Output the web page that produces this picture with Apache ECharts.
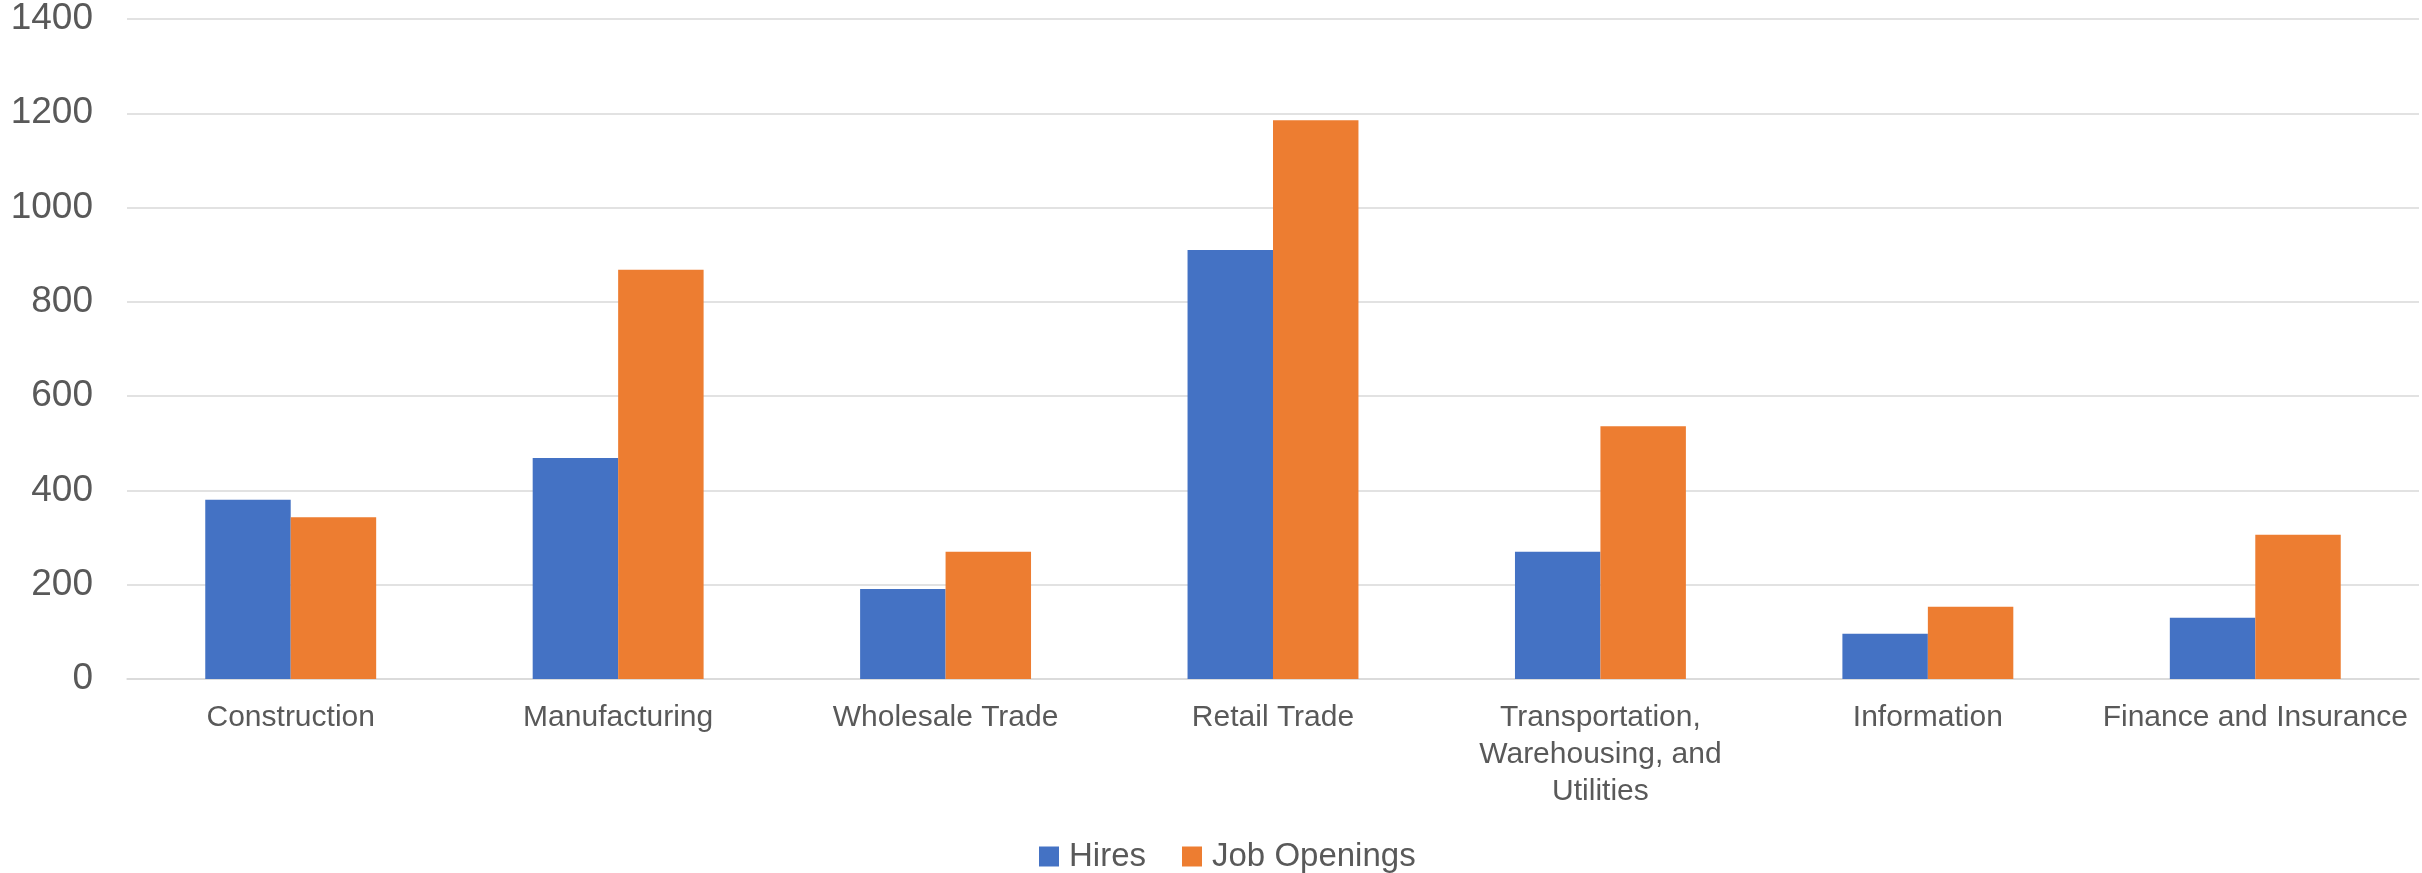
<!DOCTYPE html>
<html>
<head>
<meta charset="utf-8">
<title>Hires and Job Openings by Industry</title>
<script src="https://cdn.jsdelivr.net/npm/echarts@6/dist/echarts.min.js"></script>
<style>
  html, body { margin: 0; padding: 0; background: #ffffff; }
  #chart { width: 2422px; height: 873px; }
</style>
</head>
<body>
<div id="chart"></div>
<script>
// Industry categories (explicit line breaks for the long one)
const industries = [
  'Construction',
  'Manufacturing',
  'Wholesale Trade',
  'Retail Trade',
  'Transportation,\nWarehousing, and\nUtilities',
  'Information',
  'Finance and Insurance'
];

// Values in thousands
const hires       = [380, 469, 191, 910, 270, 96, 130];
const jobOpenings = [343, 868, 270, 1185, 536, 153, 306];

// Value axis ticks
const yMin = 0;
const yMax = 1400;
const yStep = 200;

const textColor = '#595959';
const gridColor = '#D9D9D9';
const fontFamily = '"Liberation Sans", Arial, sans-serif';

const chart = echarts.init(document.getElementById('chart'), null, { renderer: 'canvas' });

chart.setOption({
  animation: false,
  backgroundColor: '#ffffff',
  color: ['#4472C4', '#ED7D31'],
  grid: { left: 127, right: 3, top: 19, bottom: 194, containLabel: false },
  legend: {
    data: ['Hires', 'Job Openings'],
    left: 1034,
    top: 835,
    icon: 'rect',
    itemWidth: 20,
    itemHeight: 20,
    itemGap: 36,
    textStyle: {
      color: textColor,
      fontSize: 33,
      fontFamily: fontFamily,
      padding: [0, 0, 0, 5]
    }
  },
  xAxis: {
    type: 'category',
    data: industries,
    axisLine: { show: true, lineStyle: { color: gridColor, width: 1.5 } },
    axisTick: { show: false },
    axisLabel: {
      interval: 0,
      margin: 20,
      color: textColor,
      fontSize: 30,
      lineHeight: 37,
      fontFamily: fontFamily
    }
  },
  yAxis: {
    type: 'value',
    min: yMin,
    max: yMax,
    interval: yStep,
    axisLine: { show: false },
    axisTick: { show: false },
    splitLine: { lineStyle: { color: gridColor, width: 1.5 } },
    axisLabel: {
      margin: 34,
      color: textColor,
      fontSize: 37,
      fontFamily: fontFamily,
      formatter: (v) => String(v)
    }
  },
  series: [
    {
      name: 'Hires',
      type: 'bar',
      data: hires,
      barGap: '0%',
      barCategoryGap: '47.8%'
    },
    {
      name: 'Job Openings',
      type: 'bar',
      data: jobOpenings,
      barGap: '0%',
      barCategoryGap: '47.8%'
    }
  ]
});
</script>
</body>
</html>
